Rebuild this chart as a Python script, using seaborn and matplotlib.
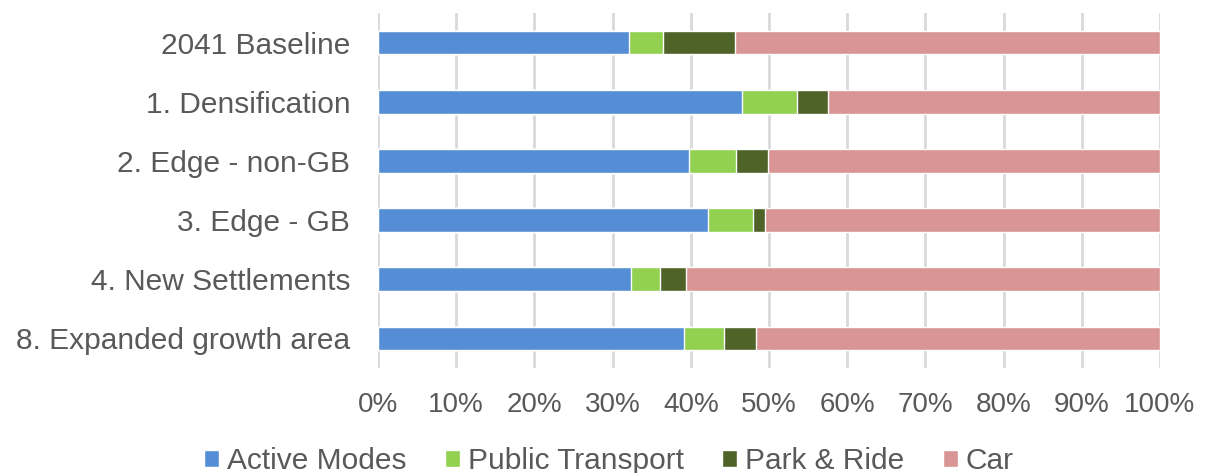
import matplotlib.pyplot as plt
import seaborn as sns
import pandas as pd
from matplotlib.patches import Patch
from matplotlib.ticker import PercentFormatter, MultipleLocator

# ---------------- Data (mode share, %) ----------------
scenarios = ['2041 Baseline', '1. Densification', '2. Edge - non-GB',
             '3. Edge - GB', '4. New Settlements', '8. Expanded growth area']
active_modes = [32.1, 46.5, 39.8, 42.2, 32.3, 39.1]
public_transport = [4.4, 7.1, 6.0, 5.7, 3.8, 5.1]
park_ride = [9.1, 3.9, 4.1, 1.6, 3.3, 4.2]
car = [54.4, 42.5, 50.1, 50.5, 60.6, 51.6]

modes = ['Active Modes', 'Public Transport', 'Park & Ride', 'Car']
colors = ['#558ED5', '#92D050', '#4F6228', '#D99594']

df = pd.DataFrame({'Scenario': scenarios,
                   'Active Modes': active_modes,
                   'Public Transport': public_transport,
                   'Park & Ride': park_ride,
                   'Car': car})
# cumulative shares so the bars can be layered into a stack
cum = df[modes].cumsum(axis=1) / 100

# ---------------- Plotting ----------------
sns.set_style('white')
plt.rcParams['font.family'] = ['Liberation Sans', 'DejaVu Sans']
text_col = '#595959'

fig, ax = plt.subplots(figsize=(12.08, 4.73), dpi=100)
fig.subplots_adjust(left=378/1208, right=1160/1208, bottom=1-368/473, top=1-13/473)

# draw from the full bar down so each shorter segment sits on top
for mode, color in reversed(list(zip(modes, colors))):
    sns.barplot(x=cum[mode], y=df['Scenario'], color=color, saturation=1,
                width=0.4, orient='h', ax=ax, zorder=3)

ax.set_xlim(0, 1)
ax.xaxis.set_major_locator(MultipleLocator(0.1))
ax.xaxis.set_major_formatter(PercentFormatter(1.0, decimals=0))
ax.xaxis.grid(True, color='#D9D9D9', linewidth=2)
ax.set_axisbelow(True)
for s in ax.spines.values():
    s.set_visible(False)
ax.set_xlabel('')
ax.set_ylabel('')
ax.tick_params(axis='x', length=0, pad=17, labelsize=20, labelcolor=text_col)
ax.tick_params(axis='y', length=0, pad=20, labelsize=21.5, labelcolor=text_col)

handles = [Patch(facecolor=c) for c in colors]
leg = fig.legend(handles, modes, loc='center', ncol=4, frameon=False,
                 bbox_to_anchor=(0.504, 0.026), fontsize=21.5,
                 handlelength=0.5, handleheight=0.5, handletextpad=0.25,
                 columnspacing=1.3, borderpad=0)
for t in leg.get_texts():
    t.set_color(text_col)

fig.savefig('out.png', dpi=100)
